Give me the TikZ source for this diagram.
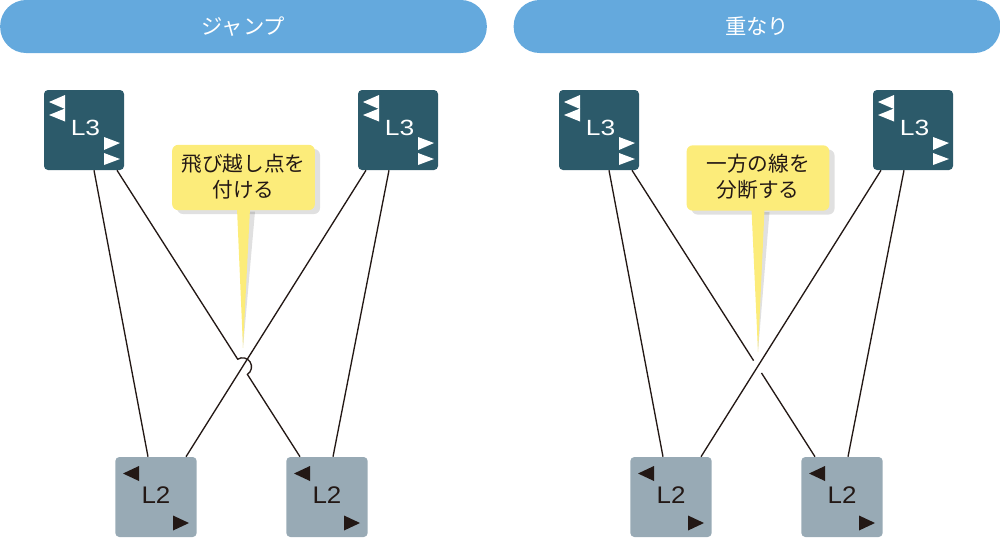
\documentclass[tikz,border=0pt]{standalone}
\usepackage{fontspec}
\setmainfont{Liberation Sans}
\newfontfamily\jp{Noto Sans CJK JP}
\newfontfamily\lthreefont[FakeStretch=1.2]{Liberation Sans}
\newfontfamily\ltwofont[FakeStretch=1.08]{Liberation Sans}
\usetikzlibrary{calc}
\definecolor{hdr}{HTML}{64A9DD}
\definecolor{lthreec}{HTML}{2C5A6A}
\definecolor{ltwoc}{HTML}{98AAB5}
\definecolor{calloutc}{HTML}{FCEC7A}
\definecolor{ink}{HTML}{231815}
\tikzset{
  hdrbox/.style={fill=hdr, rounded corners=19.5pt, minimum width=365pt, minimum height=39.75pt, inner sep=0pt, text=white, font=\jp\fontsize{16}{18}\selectfont},
  lthreebox/.style={fill=lthreec, rounded corners=3pt, minimum width=60pt, minimum height=60pt, inner sep=0pt},
  ltwobox/.style={fill=ltwoc, rounded corners=3pt, minimum width=61pt, minimum height=60pt, inner sep=0pt},
  wire/.style={draw=ink, line width=1pt},
  callbox/.style={fill=calloutc, rounded corners=4.5pt, minimum width=107pt, minimum height=49pt, inner sep=0pt},
  calltext/.style={font=\jp\fontsize{15.5}{19.5}\selectfont, text=ink, align=center, inner sep=0pt},
  shade/.style={fill=black, opacity=0.12},
}
\newcommand\lthree[2]{%
  \node[lthreebox] (#1) at (#2) {};
  \node[inner sep=0pt, text=white, font=\lthreefont\fontsize{16.5}{18}\selectfont] (#1t) at ($(#1.center)+(1.5,-2.5)$) {L3};
  \begin{scope}[shift={(#1.center)}]
    \fill[white] (-35,-28) -- (-19,-35) -- (-19,-21) -- cycle;
    \fill[white] (-35,-15) -- (-19,-21.5) -- (-19,-8.5) -- cycle;
    \fill[white] (36,13) -- (20,7) -- (20,20) -- cycle;
    \fill[white] (36,29) -- (20,23) -- (20,35) -- cycle;
  \end{scope}}
\newcommand\ltwo[2]{%
  \node[ltwobox] (#1) at (#2) {};
  \node[inner sep=0pt, text=ink, font=\ltwofont\fontsize{18}{20}\selectfont] (#1t) at ($(#1.center)+(0,-1.5)$) {L2};
  \begin{scope}[shift={(#1.center)}]
    \fill[ink] (-33,-23.5) -- (-17,-31) -- (-17,-16) -- cycle;
    \fill[ink] (33,26) -- (17,18.5) -- (17,33.5) -- cycle;
  \end{scope}}
\newcommand\callout[4]{% name, center, tip, text
  \coordinate (#1tip) at (#3);
  \begin{scope}[shift={(5,4)}]
    \fill[shade, rounded corners=4.5pt] ($(#2)+(-71.5,-32.5)$) rectangle ($(#2)+(71.5,32.5)$);
    \fill[shade] ($(#2)+(-6.5,30)$) -- (#1tip) -- ($(#2)+(6.5,30)$) -- cycle;
  \end{scope}
  \node[callbox] (#1) at (#2) {};
  \fill[calloutc] ($(#1.south)+(-6.5,-2)$) -- (#1tip) -- ($(#1.south)+(6.5,-2)$) -- cycle;
  \node[calltext] (#1t) at ($(#1.center)+(0,-1)$) {#4};}
\begin{document}
\begin{tikzpicture}[x=0.75pt,y=-0.75pt]
\useasboundingbox (0,0) rectangle (1000,540);
% headers
\node[hdrbox] (h1) at (243.5,26.5) {ジャンプ};
\node[hdrbox] (h2) at (757,26.5) {重なり};
% left panel
\lthree{a}{84,130}
\lthree{b}{398,130}
\ltwo{c}{156,497}
\ltwo{d}{327,497}
\draw[wire] ([xshift=7.5pt]a.south) -- ([xshift=-6pt]c.north);
\draw[wire] ([xshift=-24pt]b.south) -- ([xshift=22.5pt]c.north);
\draw[wire] ([xshift=-6.75pt]b.south) -- ([xshift=4.5pt]d.north);
\coordinate (ja) at ([xshift=24.75pt]a.south);
\coordinate (jb) at ([xshift=-20.25pt]d.north);
\coordinate (jx) at (intersection of ja--jb and {[xshift=-24pt]b.south}--{[xshift=22.5pt]c.north});
\draw[wire] let \p1=($(jb)-(ja)$), \n1={atan2(\y1,\x1)} in
  (ja) -- ($(jx)!6.75pt!(ja)$) arc[start angle=\n1+180, delta angle=-180, radius=6.75pt] -- (jb);
% right panel
\lthree{e}{599,130}
\lthree{f}{913,130}
\ltwo{g}{671,497}
\ltwo{h}{842,497}
\draw[wire] ([xshift=7.5pt]e.south) -- ([xshift=-6pt]g.north);
\draw[wire] ([xshift=-24pt]f.south) -- ([xshift=22.5pt]g.north);
\draw[wire] ([xshift=-6.75pt]f.south) -- ([xshift=4.5pt]h.north);
\coordinate (ka) at ([xshift=24.75pt]e.south);
\coordinate (kb) at ([xshift=-20.25pt]h.north);
\coordinate (kx) at (intersection of ka--kb and {[xshift=-24pt]f.south}--{[xshift=22.5pt]g.north});
\draw[wire] (ka) -- ($(kx)!5.5pt!(ka)$);
\draw[wire] ($(kx)!5.5pt!(kb)$) -- (kb);
% callouts
\callout{p}{243.5,177.5}{243,348}{飛び越し点を\\付ける}
\callout{q}{758,178}{758,352}{一方の線を\\分断する}
\end{tikzpicture}
\end{document}
